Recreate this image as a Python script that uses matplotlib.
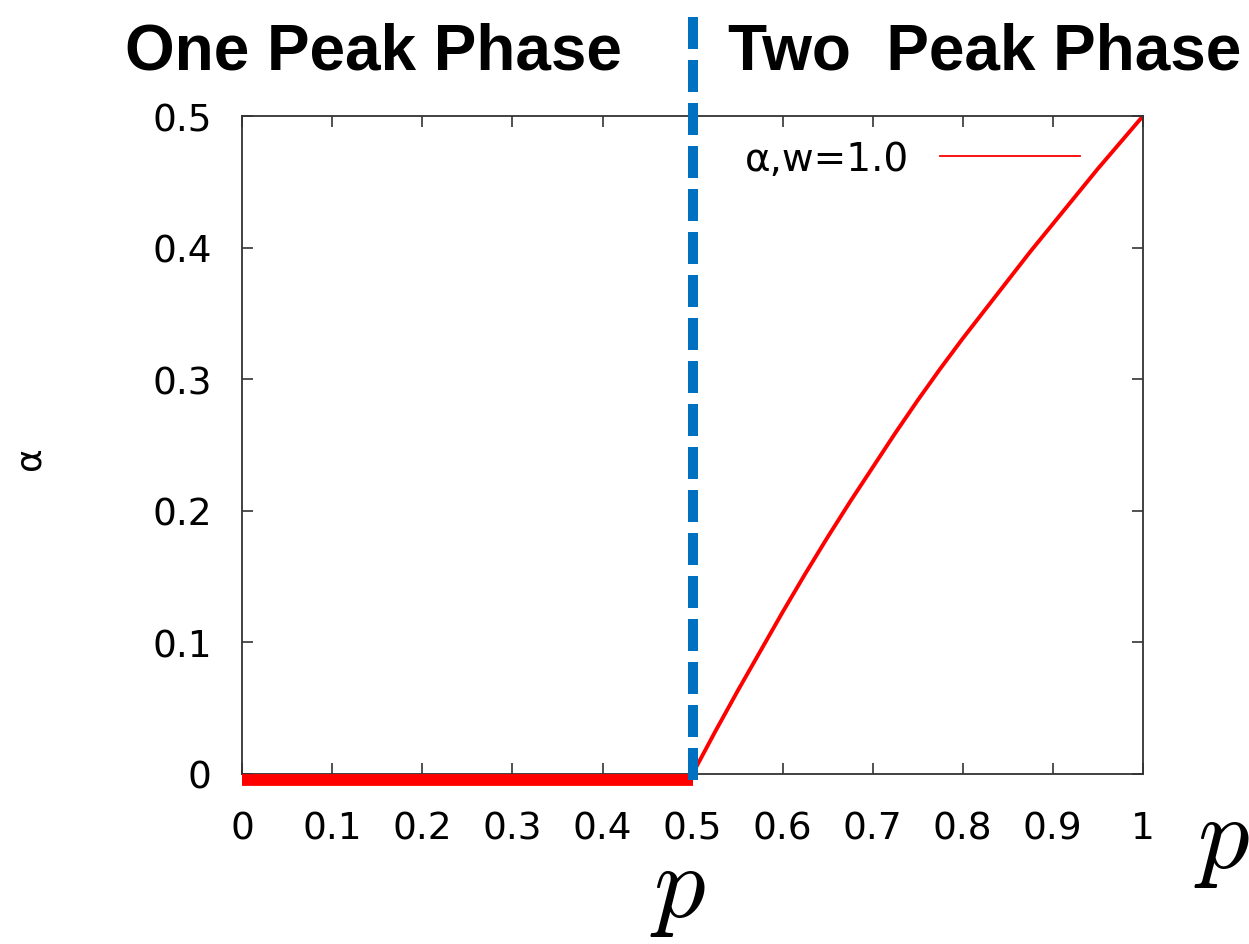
import numpy as np
import matplotlib
matplotlib.use("Agg")
from matplotlib import pyplot as plt
from matplotlib.transforms import ScaledTranslation

plt.rcParams['font.family'] = ['Liberation Sans', 'DejaVu Sans']
plt.rcParams['mathtext.fontset'] = 'cm'

# data
p_two = [0.5, 0.525, 0.55, 0.575, 0.6, 0.625, 0.65, 0.675, 0.7, 0.725, 0.75,
         0.775, 0.8, 0.825, 0.85, 0.875, 0.9, 0.925, 0.95, 0.975, 1.0]
alpha_two = [0.0, 0.032, 0.063, 0.093, 0.123, 0.152, 0.180, 0.207, 0.233, 0.259, 0.284,
             0.308, 0.331, 0.353, 0.375, 0.397, 0.418, 0.439, 0.460, 0.480, 0.5]
p_one = [0.0, 0.5]
alpha_one = [0.0, 0.0]
p_c = 0.5
xticks = [0, 0.1, 0.2, 0.3, 0.4, 0.5, 0.6, 0.7, 0.8, 0.9, 1]
xtick_labels = ['0', '0.1', '0.2', '0.3', '0.4', '0.5', '0.6', '0.7', '0.8', '0.9', '1']
yticks = [0, 0.1, 0.2, 0.3, 0.4, 0.5]
ytick_labels = ['0', '0.1', '0.2', '0.3', '0.4', '0.5']

fig = plt.figure(figsize=(12.49, 9.45), dpi=100)
ax = fig.add_axes([0.194, 0.180, 0.721, 0.696])

ax.plot(p_two, alpha_two, color='red', lw=2.8, label='α,w=1.0')
# thick red segment sits just under the bottom axis
shift = ax.transData + ScaledTranslation(0, -6 / 100, fig.dpi_scale_trans)
ax.plot(p_one, alpha_one, color='red', lw=8.5, clip_on=False, zorder=5,
        solid_capstyle='butt', transform=shift)
ax.axvline(p_c, ymin=-0.009, ymax=1.163, color='#0070C0', lw=7.2,
           dashes=(3.2, 1.1), clip_on=False, zorder=6)

ax.set_xlim(0, 1)
ax.set_ylim(0, 0.5)
ax.set_xticks(xticks)
ax.set_xticklabels(xtick_labels, fontfamily='DejaVu Sans')
ax.set_yticks(yticks)
ax.set_yticklabels(ytick_labels, fontfamily='DejaVu Sans')
ax.tick_params(direction='in', length=8, width=1.1, color='#222222',
               top=True, right=True, labelsize=27)
ax.tick_params(axis='y', pad=22)
ax.tick_params(axis='x', pad=26)
for s in ax.spines.values():
    s.set_linewidth(1.3)
    s.set_color('#333333')

leg = ax.legend(loc='center right', bbox_to_anchor=(0.93, 0.935), frameon=False,
                prop={'family': 'DejaVu Sans', 'size': 28}, markerfirst=False,
                handlelength=3.6, handletextpad=0.8, borderaxespad=0, borderpad=0)
leg.get_lines()[0].set_linewidth(1.3)

fig.text(30 / 1249, 1 - 458 / 945, 'α', fontsize=26, rotation=90,
         fontfamily='DejaVu Sans', ha='center', va='center')
fig.text(0.100, 0.926, 'One Peak Phase', fontsize=46, fontweight='bold',
         ha='left', va='baseline')
fig.text(0.583, 0.926, 'Two  Peak Phase', fontsize=46, fontweight='bold',
         ha='left', va='baseline')
fig.text(0.543, 0.058, r'$p$', fontsize=74, ha='center', va='center')
fig.text(0.978, 0.11, r'$p$', fontsize=74, ha='center', va='center')

fig.savefig('out.png', dpi=100)
